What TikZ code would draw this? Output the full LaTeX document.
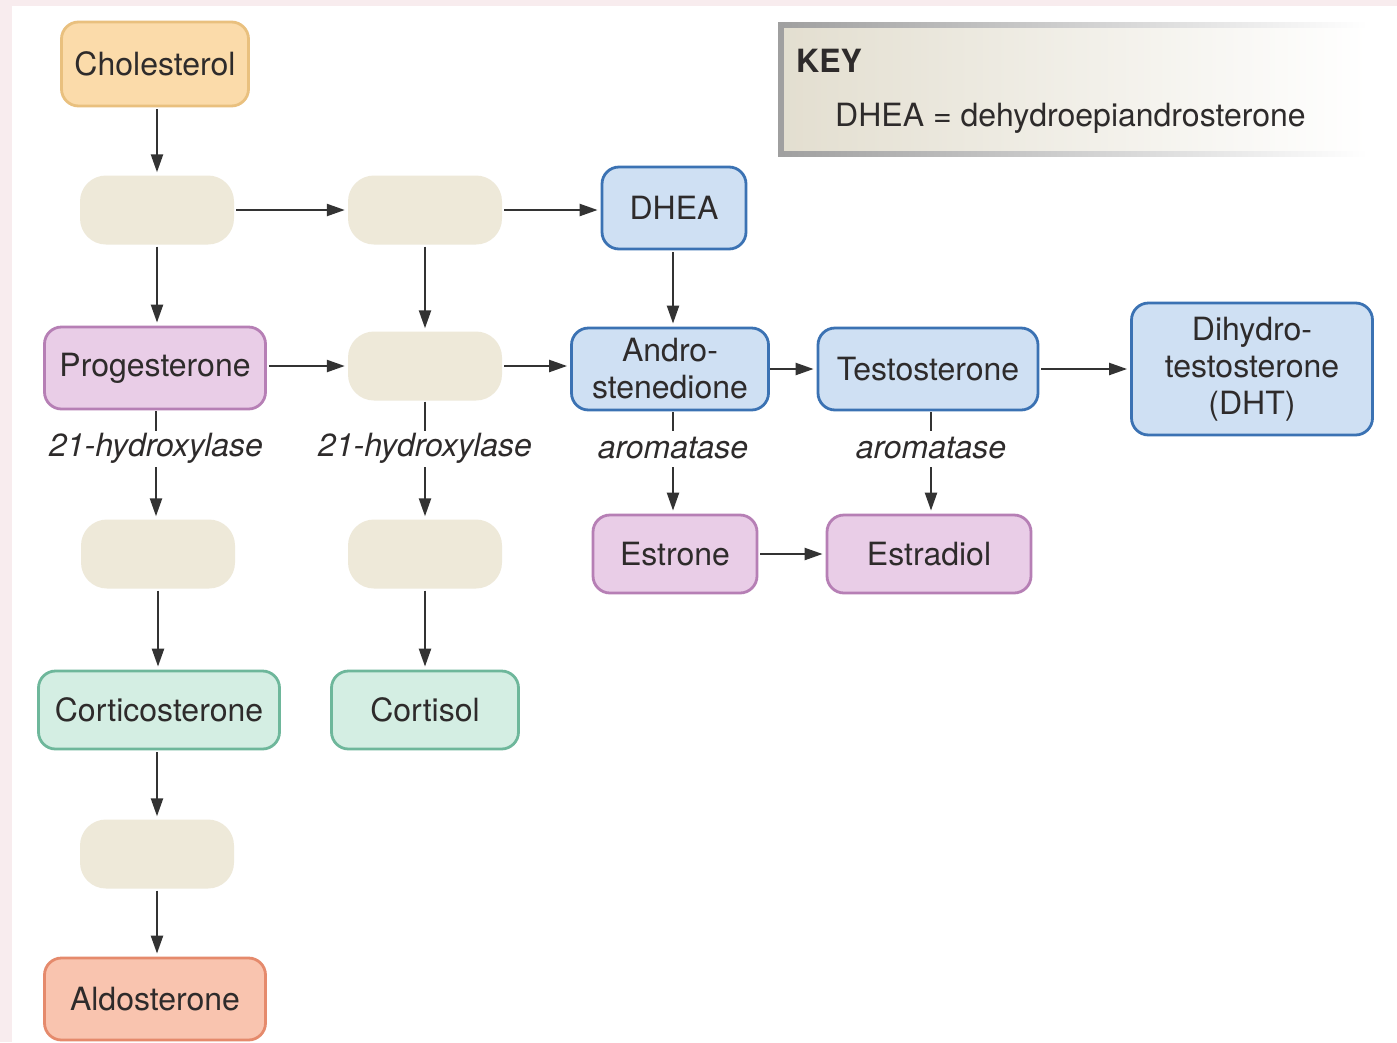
\documentclass[tikz,border=0pt]{standalone}
\usepackage{fontspec}
\setmainfont{TeX Gyre Heros}
\usetikzlibrary{arrows.meta}
\definecolor{txt}{HTML}{2E2B2B}
\definecolor{pinkbg}{HTML}{F8ECEE}
\definecolor{blankfill}{HTML}{EEE9D9}
\definecolor{orfill}{HTML}{FBDBAA}
\definecolor{ordraw}{HTML}{E9C07E}
\definecolor{blfill}{HTML}{CFE0F3}
\definecolor{bldraw}{HTML}{3B72B3}
\definecolor{pufill}{HTML}{E9CDE7}
\definecolor{pudraw}{HTML}{B67FB5}
\definecolor{grfill}{HTML}{D4EEE3}
\definecolor{grdraw}{HTML}{6EB79B}
\definecolor{rdfill}{HTML}{F9C4AF}
\definecolor{rddraw}{HTML}{E58A6C}
\definecolor{arrowc}{HTML}{333333}
\begin{document}
\begin{tikzpicture}[x=1pt,y=-1pt,
  every node/.style={font=\fontsize{32}{37}\selectfont, text=txt, align=center, inner sep=0pt},
  box/.style={rounded corners=17pt, line width=2.8pt},
  orbox/.style={box, fill=orfill, draw=ordraw},
  blbox/.style={box, fill=blfill, draw=bldraw},
  pubox/.style={box, fill=pufill, draw=pudraw},
  grbox/.style={box, fill=grfill, draw=grdraw},
  rdbox/.style={box, fill=rdfill, draw=rddraw},
  blank/.style={rounded corners=26pt, fill=blankfill, minimum width=154pt, minimum height=69pt},
  enz/.style={font=\fontsize{32}{37}\selectfont\itshape, minimum height=34pt},
  arr/.style={draw=arrowc, line width=2.3pt, -{Triangle[length=18pt,width=12pt]}, shorten >=3pt, shorten <=2pt},
  ln/.style={draw=arrowc, line width=2.3pt, shorten <=1pt}
]
\useasboundingbox (0,0) rectangle (1397,1042);
\fill[pinkbg] (0,0) rectangle (1397,1042);
\fill[white] (12,6) rectangle (1397,1042);

% KEY box
\shade[left color=gray!75, right color=white] (778,22) rectangle (1368,156);
\shade[left color=blankfill!90!gray, right color=white] (784,28) rectangle (1368,150);
\node[anchor=base west, font=\fontsize{32}{37}\selectfont\bfseries] (keyt) at (796,72) {KEY};
\node[anchor=base west] (keyd) at (835,126) {DHEA = dehydroepiandrosterone};

% nodes
\node[orbox, minimum width=187pt, minimum height=84pt] (chol) at (155,64) {Cholesterol};
\node[blank] (b1) at (157,210) {};
\node[blank] (b2) at (425,210) {};
\node[blbox, minimum width=144pt, minimum height=82pt] (dhea) at (674,208) {DHEA};
\node[pubox, minimum width=221pt, minimum height=82pt] (prog) at (155,368) {Progesterone};
\node[blank] (b3) at (425,366) {};
\node[blbox, minimum width=197pt, minimum height=82pt] (andro) at (670,369) {Andro-\\stenedione};
\node[blbox, minimum width=220pt, minimum height=82pt] (testo) at (928,369) {Testosterone};
\node[blbox, minimum width=241pt, minimum height=132pt] (dht) at (1252,369) {Dihydro-\\testosterone\\(DHT)};
\node[enz] (e1) at (156,448) {21-hydroxylase};
\node[enz] (e2) at (425,448) {21-hydroxylase};
\node[enz] (e3) at (673,448) {aromatase};
\node[enz] (e4) at (931,448) {aromatase};
\node[blank] (b4) at (158,554) {};
\node[blank] (b5) at (425,554) {};
\node[pubox, minimum width=164pt, minimum height=78pt] (estrone) at (675,554) {Estrone};
\node[pubox, minimum width=204pt, minimum height=78pt] (estradiol) at (929,554) {Estradiol};
\node[grbox, minimum width=241pt, minimum height=78pt] (cort) at (159,710) {Corticosterone};
\node[grbox, minimum width=187pt, minimum height=78pt] (cortisol) at (425,710) {Cortisol};
\node[blank] (b6) at (157,854) {};
\node[rdbox, minimum width=221pt, minimum height=82pt] (aldo) at (155,999) {Aldosterone};

% connectors
\draw[arr] (chol.south -| b1) -- (b1.north);
\draw[arr] (b1.east) -- (b2.west);
\draw[arr] (b2.east) -- (b2.east -| dhea.west);
\draw[arr] (b1.south) -- (prog.north -| b1);
\draw[arr] (b2.south) -- (b3.north);
\draw[arr] (dhea.south -| e3) -- (andro.north -| e3);
\draw[arr] (prog.east |- b3) -- (b3.west);
\draw[arr] (b3.east) -- (b3.east -| andro.west);
\draw[arr, shorten <=0pt] (andro.east) -- (testo.west);
\draw[arr] (testo.east) -- (dht.west);
\draw[ln] (prog.south -| e1) -- (e1.north);
\draw[arr] (e1.south) -- (b4.north -| e1);
\draw[ln] (b3.south) -- (e2.north);
\draw[arr] (e2.south) -- (b5.north);
\draw[ln] (andro.south -| e3) -- (e3.north);
\draw[arr] (e3.south) -- (estrone.north -| e3);
\draw[ln] (testo.south -| e4) -- (e4.north);
\draw[arr] (e4.south) -- (estradiol.north -| e4);
\draw[arr] (estrone.east) -- (estradiol.west);
\draw[arr] (b4.south) -- (cort.north -| b4);
\draw[arr] (b5.south) -- (cortisol.north);
\draw[arr] (cort.south -| b6) -- (b6.north);
\draw[arr] (b6.south) -- (aldo.north -| b6);
\end{tikzpicture}
\end{document}
